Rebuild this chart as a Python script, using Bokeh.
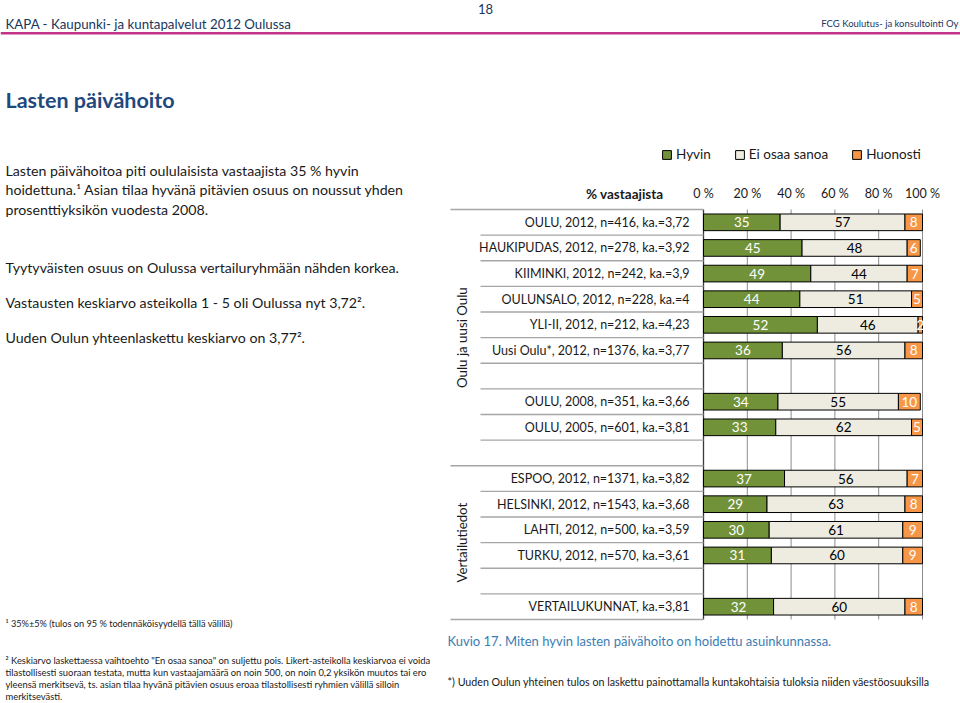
import math
from bokeh.plotting import figure
from bokeh.models import Range1d, Label, ColumnDataSource, BoxAnnotation
from bokeh.core.properties import value
from bokeh.embed import file_html
from bokeh.resources import INLINE

# ---------------- data ----------------
series = ["Hyvin", "Ei osaa sanoa", "Huonosti"]
groups = ["Oulu ja uusi Oulu", "Vertailutiedot"]
group_rows = [10, 6]
categories = [
    "OULU, 2012, n=416, ka.=3,72",
    "HAUKIPUDAS, 2012, n=278, ka.=3,92",
    "KIIMINKI, 2012, n=242, ka.=3,9",
    "OULUNSALO, 2012, n=228, ka.=4",
    "YLI-II, 2012, n=212, ka.=4,23",
    "Uusi Oulu*, 2012, n=1376, ka.=3,77",
    "",
    "OULU, 2008, n=351, ka.=3,66",
    "OULU, 2005, n=601, ka.=3,81",
    "",
    "ESPOO, 2012, n=1371, ka.=3,82",
    "HELSINKI, 2012, n=1543, ka.=3,68",
    "LAHTI, 2012, n=500, ka.=3,59",
    "TURKU, 2012, n=570, ka.=3,61",
    "",
    "VERTAILUKUNNAT, ka.=3,81",
]
hyvin    = [35, 45, 49, 44, 52, 36, None, 34, 33, None, 37, 29, 30, 31, None, 32]
eos      = [57, 48, 44, 51, 46, 56, None, 55, 62, None, 56, 63, 61, 60, None, 60]
huonosti = [8, 6, 7, 5, 2, 8, None, 10, 5, None, 7, 8, 9, 9, None, 8]
x_ticks = [0, 20, 40, 60, 80, 100]
x_tick_labels = ["0 %", "20 %", "40 %", "60 %", "80 %", "100 %"]

GREEN = "#72923a"
LIGHT = "#eeece1"
ORANGE = "#f79646"
FONT = "Lato"
TXT = "#1a1a1a"

# ---------------- layout constants (pixels) ----------------
W, H = 960, 703
PX0, PX100 = 703, 922          # x pixel of 0 % and 100 %
TOP = 209                      # y pixel of first row boundary
ROW = 25.625                   # row pitch
ppu = (PX100 - PX0) / 100.0
x_start = -PX0 / ppu
x_end = 100 + (W - PX100) / ppu
y_top = -0.5 - TOP / ROW
y_bottom = -0.5 + (H - TOP) / ROW

def xpx(px):
    return (px - PX0) / ppu

def ypx(py):
    return -0.5 + (py - TOP) / ROW

p = figure(width=W, height=H, output_backend="svg", toolbar_location=None,
           x_range=Range1d(x_start, x_end), y_range=Range1d(y_bottom, y_top),
           x_axis_location=None, y_axis_location=None,
           min_border_left=0, min_border_right=0, min_border_bottom=0,
           min_border_top=0)
p.outline_line_color = None
p.xgrid.visible = False
p.ygrid.visible = False
p.background_fill_color = "white"
p.border_fill_color = "white"

nrows = len(categories)

# x tick labels (percent scale)
p.text(x=x_ticks, y=[ypx(193)] * len(x_ticks), text=x_tick_labels,
       text_align="center", text_baseline="middle", text_font=value(FONT),
       text_font_size="12.5px", text_color=TXT)

# vertical grid lines
p.segment(x0=x_ticks[1:], x1=x_ticks[1:], y0=[-0.5] * 5, y1=[nrows - 0.5] * 5,
          line_color="#8c8c8c", line_width=1)
p.segment(x0=[0], x1=[0], y0=[-0.5], y1=[nrows - 0.5], line_color="#3a3a3a", line_width=1.3)

# category separators
full_b = [-0.5]
acc = -0.5
for g in group_rows:
    acc += g
    full_b.append(acc)
short_b = [i - 0.5 for i in range(1, nrows) if (i - 0.5) not in full_b]
p.segment(x0=[xpx(450)] * len(full_b), x1=[0] * len(full_b), y0=full_b, y1=full_b,
          line_color="#a6a6a6", line_width=1.4)
p.segment(x0=[xpx(480)] * len(short_b), x1=[0] * len(short_b), y0=short_b, y1=short_b,
          line_color="#a6a6a6", line_width=1.4)

# bars
idx = [i for i in range(nrows) if hyvin[i] is not None]
src = ColumnDataSource(dict(
    row=idx,
    **{"Hyvin": [hyvin[i] for i in idx],
       "Ei osaa sanoa": [eos[i] for i in idx],
       "Huonosti": [huonosti[i] for i in idx]}))
p.hbar_stack(series, y="row", height=0.65, source=src,
             color=[GREEN, LIGHT, ORANGE], line_color="black", line_width=1,
             legend_label=series)

# bar value labels
h = [hyvin[i] for i in idx]
e = [eos[i] for i in idx]
u = [huonosti[i] for i in idx]
c1 = [a / 2 for a in h]
c2 = [a + b / 2 for a, b in zip(h, e)]
c3 = [a + b + c / 2 for a, b, c in zip(h, e, u)]
for xs, vals, col in ((c1, h, "white"), (c2, e, "black"), (c3, u, "white")):
    p.text(x=xs, y=idx, text=[str(v) for v in vals], text_align="center",
           text_baseline="middle", text_font=value(FONT), text_font_size="13.5px",
           text_color=col)

# category labels
p.text(x=[xpx(689)] * nrows, y=list(range(nrows)), text=categories,
       text_align="right", text_baseline="middle", text_font=value(FONT),
       text_font_size="12.5px", text_color=TXT)

# group labels
gc = []
acc = 0
for g in group_rows:
    gc.append(acc + g / 2 - 0.5)
    acc += g
p.text(x=[xpx(461)] * len(groups), y=gc, text=groups, angle=math.pi / 2,
       text_align="center", text_baseline="middle", text_font=value(FONT),
       text_font_size="13.3px", text_color=TXT)

# legend
lg = p.legend[0]
lg.orientation = "horizontal"
lg.location = (661, H - 162)
lg.glyph_width = 11
lg.glyph_height = 11
lg.label_height = 12
lg.label_standoff = 4
lg.spacing = 23
lg.padding = 0
lg.margin = 0
lg.border_line_color = None
lg.background_fill_alpha = 0
lg.label_text_font = FONT
lg.label_text_font_size = "13.5px"
lg.label_text_color = TXT

# ---------------- page texts ----------------
def lab(X, Y, text, size, color=TXT, bold=False, align="left"):
    p.add_layout(Label(x=X, y=H - Y, x_units="screen", y_units="screen",
                       text=text, text_font=FONT, text_font_size=size,
                       text_color=color, text_align=align, text_baseline="middle",
                       text_font_style="bold" if bold else "normal"))

NAVY = "#17365d"
lab(485, 8, "18", "13px", NAVY, align="center")
lab(5, 23, "KAPA - Kaupunki- ja kuntapalvelut 2012 Oulussa", "13.3px", NAVY)
lab(958, 23, "FCG Koulutus- ja konsultointi Oy", "9.5px", NAVY, align="right")
p.add_layout(BoxAnnotation(left=0, right=W, top=H - 31.5, bottom=H - 34,
                           left_units="screen", right_units="screen",
                           top_units="screen", bottom_units="screen",
                           fill_color="#c4338a", fill_alpha=1, line_color=None))
lab(5, 99, "Lasten päivähoito", "21.5px", "#1f497d", bold=True)

body = [
    (170, "Lasten päivähoitoa piti  oululaisista vastaajista 35 % hyvin"),
    (189, "hoidettuna.¹ Asian tilaa hyvänä pitävien osuus on noussut yhden"),
    (209, "prosenttiyksikön vuodesta 2008."),
    (267, "Tyytyväisten osuus on Oulussa vertailuryhmään nähden korkea."),
    (302, "Vastausten keskiarvo asteikolla 1 - 5 oli Oulussa nyt 3,72²."),
    (337, "Uuden Oulun yhteenlaskettu keskiarvo on 3,77²."),
]
for Y, t in body:
    lab(5, Y, t, "14.2px")

lab(663, 193, "% vastaajista", "13.5px", bold=True, align="right")

lab(5, 623, "¹ 35%±5% (tulos on 95 % todennäköisyydellä tällä välillä)", "9.2px")
notes = [
    (660, "² Keskiarvo laskettaessa vaihtoehto \"En osaa sanoa\" on suljettu pois. Likert-asteikolla keskiarvoa ei voida"),
    (672, "tilastollisesti suoraan testata, mutta kun vastaajamäärä on noin 500, on noin 0,2 yksikön muutos tai ero"),
    (684, "yleensä merkitsevä, ts. asian tilaa hyvänä pitävien osuus eroaa  tilastollisesti ryhmien välillä silloin"),
    (696, "merkitsevästi."),
]
for Y, t in notes:
    lab(5, Y, t, "9.4px")

lab(447, 640, "Kuvio 17. Miten hyvin lasten päivähoito on hoidettu asuinkunnassa.", "13px", "#3b7db3")
lab(447, 681, "*) Uuden Oulun yhteinen tulos on laskettu painottamalla kuntakohtaisia tuloksia niiden väestöosuuksilla", "10.7px")

open("out.html", "w").write(file_html(p, INLINE))
